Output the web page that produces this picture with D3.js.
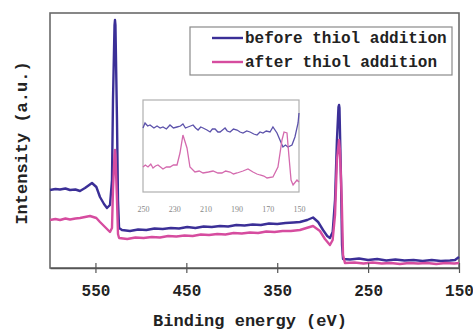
<!DOCTYPE html>
<html><head><meta charset="utf-8">
<script src="https://cdn.jsdelivr.net/npm/d3@7"></script>
<style>body{margin:0;background:#fff}svg{display:block}</style>
</head><body><svg id="c" width="473" height="331"></svg>
<script>
// Main survey spectrum (binding energy eV, intensity a.u.)
const beforeE = [600,594,589,583,578,572,567,561.5,553.8,549,545,540.6,537.3,534,531.8,530.7,529,528.5,528,526.3,525.2,524,520.8,512,503,494,485,476,467,458,449,440,431,422,413,404,395,386,377,368,359,350,341,332,325,317,310.6,305,299.6,295,292,289,286.4,284.3,282.6,282,281.5,279.8,278.7,277.6,270,260,250,240,230,220,210,200,190,180,170,160,154.4,150];
const beforeI = [78,79,78.5,79.5,78,78.5,77,80,85,81,71,64,60,63,88,168,243,248,243,148,68,40,38,37,38.5,38,39.5,39,40,39.5,41,40,41.5,41,42,41.5,43,42.5,43.5,43,44.5,44,45,45.5,46,48,50.5,46,38,32,30,36,68,128,161,163,160,88,23,9,8.5,9.5,8,9,7.5,8.5,7.5,8,7,8,7,7.5,8,11];
const afterE = [600,594,589,583,578,572,567,556,549,545,539.5,534,531.8,530.7,529,528.5,528,526.3,525.2,524,515,506,497,488,479,470,461,452,443,434,425,416,407,398,389,380,371,362,353,344,335,325,310.6,303,297.5,292,289,286.4,284.3,282,281,279,277.6,275.5,265,255,245,235,225,215,205,195,185,175,165,155,150];
const afterI = [48,49,48,49.5,48.5,49.5,50,52,50,46,41,36,40,78,113,118,113,68,34,30,29,30.5,30,31,30.5,32,31.5,32.5,32,33.5,33,34,33.5,35,34.5,35.5,35,36.5,36,37,37,38,42,37,29,23,28,53,108,128,118,68,13,5,5.5,4.5,5.5,4.5,5,4,5,4.5,5,4,5,4.5,5];
// Inset (S 2p region)
const insetBeforeE = [250,248.7,247,245.5,243,241,239,237.2,235,232.7,230.5,228.2,226,224.4,222.8,221.2,219.5,217.9,216.3,214.7,213,211.5,209,207,205.5,203.8,202,200.6,199,197.4,196,194.2,192,189.7,187.8,185.9,183.5,181.4,179,176.9,175,173.1,171,168.6,166.7,164.1,162.2,160.3,158.7,157.1,154.5,152.6,150.6,150];
const insetBeforeI = [64,69,66,67,64,66,64,65,63,67,64,65,66,68,64,65,66,67,64,62,65,64,62,60,63,63,60,60,62,64,61,60,63,62,60,59,61,60,58,57,60,59,61,60,65,59,52,45,47,45,47,55,69,79];
const insetAfterE = [250,248.5,246.8,245,243.6,242,240.4,238.8,237.2,235,232.7,230.5,228.2,226.3,224.4,221.8,219.9,216.7,214,211.5,208,205.1,202,199.4,197,194.2,192,189.7,185.9,182.7,179.5,177,175,172.5,170.5,166.7,163.5,160.9,159.6,157.7,156.4,155.1,153.8,151.3,150];
const insetAfterI = [25,27,25,28,24,26,27,25,23,25,25,27,27,39,57,44,25,20,21,19,20,21,19,19,21,20,18,19,21,23,20,18,17,16,14,15,25,52,60,59,35,12,7,12,10];
const xTicks = [550,450,350,250,150];
const insetTicks = [250,230,210,190,170,150];
const seriesNames = ["before thiol addition","after thiol addition"];
const colors = ["#3b2f97","#d64c9f"];
const insetColors = ["#5c52ab","#d46aae"];

const svg = d3.select("#c");
const L=50,R=459,T=13,B=268;
const x = d3.scaleLinear().domain([600,150]).range([L,R]);
const y = d3.scaleLinear().domain([0,255]).range([B,T]);
const mono = "'Liberation Mono','DejaVu Sans Mono',monospace";

// frame
svg.append("rect").attr("x",L).attr("y",T).attr("width",R-L).attr("height",B-T)
  .attr("fill","#fff").attr("stroke","#6a6a6a").attr("stroke-width",1.6);

const line = d3.line().x(d=>x(d[0])).y(d=>y(d[1]));
svg.append("path").datum(d3.zip(beforeE,beforeI)).attr("d",line)
  .attr("fill","none").attr("stroke",colors[0]).attr("stroke-width",2.4).attr("stroke-linejoin","round");
svg.append("path").datum(d3.zip(afterE,afterI)).attr("d",line)
  .attr("fill","none").attr("stroke",colors[1]).attr("stroke-width",2.4).attr("stroke-linejoin","round");

// x axis
const xa = svg.append("g").attr("transform",`translate(0,${B})`)
  .call(d3.axisBottom(x).tickValues(xTicks).tickSize(5).tickSizeOuter(0).tickPadding(12));
xa.select(".domain").attr("stroke","#555").attr("stroke-width",1.6);
xa.selectAll(".tick line").attr("stroke","#555").attr("stroke-width",1.2).attr("y1",-5);
xa.selectAll(".tick text").attr("font-family",mono).attr("font-weight","bold")
  .attr("font-size",16).attr("fill","#222");

svg.append("text").attr("x",250).attr("y",326).attr("text-anchor","middle")
  .attr("font-family",mono).attr("font-weight","bold").attr("font-size",17).attr("fill","#222")
  .text("Binding energy (eV)");
svg.append("text").attr("transform","translate(27,143) rotate(-90)").attr("text-anchor","middle")
  .attr("font-family",mono).attr("font-weight","bold").attr("font-size",17).attr("fill","#222")
  .text("Intensity (a.u.)");

// legend
const lg = svg.append("g");
lg.append("rect").attr("x",190).attr("y",27).attr("width",262).attr("height",48)
  .attr("fill","#fff").attr("stroke","#8a8a8a").attr("stroke-width",1.2);
seriesNames.forEach((n,i)=>{
  const yy = 38 + i*24;
  lg.append("line").attr("x1",212).attr("x2",243).attr("y1",yy).attr("y2",yy)
    .attr("stroke",colors[i]).attr("stroke-width",2.4);
  lg.append("text").attr("x",245).attr("y",yy+5).attr("font-family",mono).attr("font-weight","bold")
    .attr("font-size",16).attr("fill","#222").text(n);
});

// inset
const IL=143,IR=299,IT=100,IB=192;
const xi = d3.scaleLinear().domain([250,150]).range([IL,IR]);
const yi = d3.scaleLinear().domain([0,92]).range([IB,IT]);
svg.append("rect").attr("x",IL).attr("y",IT).attr("width",IR-IL).attr("height",IB-IT)
  .attr("fill","#fff").attr("stroke","#b0b0b0").attr("stroke-width",1.2);
const li = d3.line().x(d=>xi(d[0])).y(d=>yi(d[1]));
svg.append("path").datum(d3.zip(insetBeforeE,insetBeforeI)).attr("d",li)
  .attr("fill","none").attr("stroke",insetColors[0]).attr("stroke-width",1.3);
svg.append("path").datum(d3.zip(insetAfterE,insetAfterI)).attr("d",li)
  .attr("fill","none").attr("stroke",insetColors[1]).attr("stroke-width",1.3);
const ia = svg.append("g").attr("transform",`translate(0,${IB})`)
  .call(d3.axisBottom(xi).tickValues(insetTicks).tickSize(0).tickPadding(14));
ia.select(".domain").remove();
ia.selectAll(".tick text").attr("font-family","'Liberation Serif',serif")
  .attr("font-size",8).attr("fill","#888");
</script></body></html>
